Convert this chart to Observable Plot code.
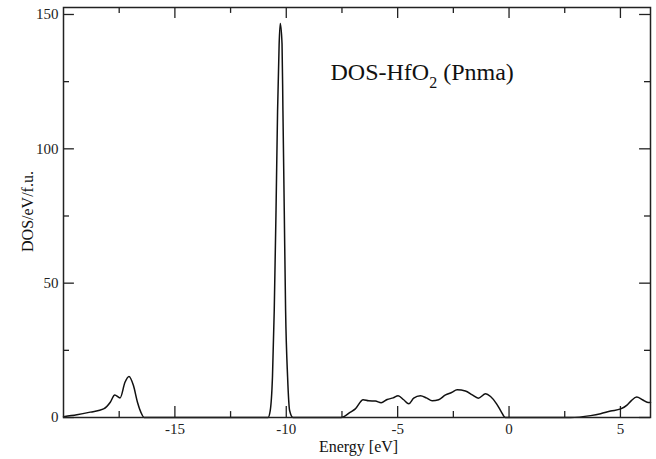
<!DOCTYPE html>
<html>
<head>
<meta charset="utf-8">
<script src="https://cdn.jsdelivr.net/npm/d3@7"></script>
<script src="https://cdn.jsdelivr.net/npm/@observablehq/plot@0.6"></script>
<style>
  html, body { margin: 0; padding: 0; background: white; }
</style>
</head>
<body>
<div id="chart"></div>
<script>
// Energy (eV) and DOS (states/eV/f.u.)
const energy = [
  -20.0, -19.4, -18.8, -18.2, -17.9, -17.7, -17.46, -17.24, -17.06, -16.86, -16.68, -16.53, -16.38,
  -10.82, -10.72, -10.62, -10.54, -10.46, -10.39, -10.32, -10.27, -10.19, -10.15, -10.09, -10.03, -9.94, -9.85, -9.70,
  -7.54, -7.12, -6.90, -6.55, -6.30, -6.00, -5.74, -5.47, -5.20, -4.98, -4.73, -4.50, -4.28, -3.98, -3.71, -3.45,
  -3.16, -2.85, -2.58, -2.33, -1.96, -1.65, -1.38, -1.05, -0.83, -0.56, -0.36, -0.16,
  2.76, 3.66, 4.11, 4.56, 5.01, 5.28, 5.49, 5.73, 5.99, 6.24, 6.35
];
const dos = [
  0.3, 1.0, 2.0, 3.2, 5.7, 8.4, 7.3, 13.1, 15.3, 11.9, 5.7, 2.0, 0,
  0, 2.6, 15, 39.8, 77, 114.3, 139, 146.6, 139, 114.3, 77, 39.8, 15, 2.6, 0,
  0, 2.0, 3.2, 6.6, 6.2, 6.1, 5.5, 6.7, 7.3, 8.1, 6.6, 5.1, 7.2, 8.1, 7.3, 6.2,
  6.6, 8.4, 9.3, 10.3, 9.9, 8.4, 7.2, 8.8, 7.8, 5.1, 2.3, 0,
  0, 0.7, 1.4, 2.4, 3.2, 4.5, 6.3, 7.6, 6.6, 5.6, 5.6
];

const xDomain = [-20, 6.35];
const yDomain = [0, 152.6];
const xMajor = [-15, -10, -5, 0, 5];
const xMinor = [-17.5, -12.5, -7.5, -2.5, 2.5];
const yMajor = [0, 50, 100, 150];
const yMinor = [25, 75, 125];

const titleMain = "DOS-HfO";
const titleSub = "2";
const titleRest = " (Pnma)";
const xLabel = "Energy [eV]";
const yLabel = "DOS/eV/f.u.";

const data = energy.map((e, i) => ({e, d: dos[i]}));

// tick lengths in data units (major ~11px, minor ~6px)
const xTickMaj = 4.1, xTickMin = 2.2;   // DOS units (vertical ticks)
const yTickMaj = 0.49, yTickMin = 0.27; // eV units (horizontal ticks)

const ink = "#222";

const chart = Plot.plot({
  width: 656,
  height: 459,
  marginLeft: 63,
  marginRight: 6,
  marginTop: 7,
  marginBottom: 42,
  x: {domain: xDomain},
  y: {domain: yDomain},
  style: {fontFamily: "'Liberation Serif', 'Times New Roman', serif", fontSize: "15px", background: "white", color: ink},
  marks: [
    Plot.axisX(xMajor, {tickSize: 0, tickPadding: 6, label: null, tickFormat: d => String(d), fontSize: 15}),
    Plot.axisY(yMajor, {tickSize: 0, tickPadding: 5, label: null, tickFormat: d => String(d), fontSize: 15}),
    // bottom & top ticks
    Plot.ruleX(xMajor, {x: d => d, y1: yDomain[0], y2: yDomain[0] + xTickMaj, stroke: ink, strokeWidth: 1.3}),
    Plot.ruleX(xMinor, {x: d => d, y1: yDomain[0], y2: yDomain[0] + xTickMin, stroke: ink, strokeWidth: 1.3}),
    Plot.ruleX(xMajor, {x: d => d, y1: yDomain[1], y2: yDomain[1] - xTickMaj, stroke: ink, strokeWidth: 1.3}),
    Plot.ruleX(xMinor, {x: d => d, y1: yDomain[1], y2: yDomain[1] - xTickMin, stroke: ink, strokeWidth: 1.3}),
    // left & right ticks
    Plot.ruleY(yMajor, {y: d => d, x1: xDomain[0], x2: xDomain[0] + yTickMaj, stroke: ink, strokeWidth: 1.3}),
    Plot.ruleY(yMinor, {y: d => d, x1: xDomain[0], x2: xDomain[0] + yTickMin, stroke: ink, strokeWidth: 1.3}),
    Plot.ruleY(yMajor, {y: d => d, x1: xDomain[1], x2: xDomain[1] - yTickMaj, stroke: ink, strokeWidth: 1.3}),
    Plot.ruleY(yMinor, {y: d => d, x1: xDomain[1], x2: xDomain[1] - yTickMin, stroke: ink, strokeWidth: 1.3}),
    Plot.line(data, {x: "e", y: "d", curve: "monotone-x", stroke: "#111", strokeWidth: 1.5}),
    Plot.frame({stroke: ink, strokeWidth: 1.5}),
    Plot.text([titleMain], {text: d => d, frameAnchor: "top-left", dx: 267, dy: 72, textAnchor: "start", lineAnchor: "bottom", fontSize: 24, fill: "#111"}),
    Plot.text([xLabel], {text: d => d, frameAnchor: "bottom", dx: 1.5, dy: 34, textAnchor: "middle", lineAnchor: "bottom", fontSize: 16, fill: "#111"}),
    Plot.text([yLabel], {text: d => d, frameAnchor: "left", rotate: -90, dx: -31, dy: -1, textAnchor: "middle", lineAnchor: "bottom", fontSize: 16, fill: "#111"})
  ]
});

// add subscript to title
const t = Array.from(chart.querySelectorAll("text")).find(n => n.textContent === titleMain);
if (t) {
  const ns = "http://www.w3.org/2000/svg";
  const s = document.createElementNS(ns, "tspan");
  s.setAttribute("dy", "8");
  s.setAttribute("font-size", "16");
  s.textContent = titleSub;
  const r = document.createElementNS(ns, "tspan");
  r.setAttribute("dy", "-8");
  r.setAttribute("font-size", "24");
  r.textContent = titleRest;
  t.appendChild(s);
  t.appendChild(r);
}

document.getElementById("chart").appendChild(chart);
</script>
</body>
</html>
